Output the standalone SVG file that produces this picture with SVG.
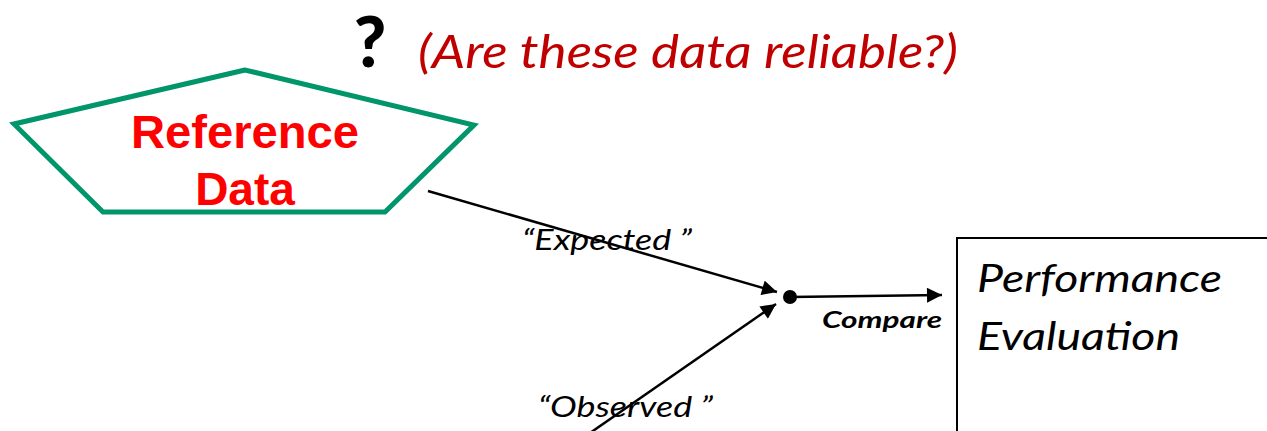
<svg xmlns="http://www.w3.org/2000/svg" width="1267" height="431" viewBox="0 0 1267 431">
<defs>
<style>
.lbl{font-family:Lato,"Open Sans","Liberation Sans",sans-serif;font-style:italic;fill:#000}
.conn{stroke:#000;stroke-width:2.5;fill:none}
</style>
<marker id="arr" viewBox="0 0 10 10" refX="10" refY="5" markerWidth="6.5" markerHeight="6" markerUnits="strokeWidth" orient="auto">
<path d="M0,0 L10,5 L0,10 z" fill="#000"/>
</marker>
</defs>
<rect width="1267" height="431" fill="#fff"/>
<g id="question">
<text x="370" y="67" font-family="Lato,'Open Sans',sans-serif" font-weight="900" font-size="70" text-anchor="middle" fill="#000">?</text>
<text x="418" y="68" font-family="Lato,'Open Sans',sans-serif" font-style="italic" font-size="46" fill="#C00000" textLength="540" lengthAdjust="spacingAndGlyphs">(Are these data reliable?)</text>
</g>
<g id="reference-data">
<polygon points="245,70 14,124 103,212 385,212 474,125" fill="#fff" stroke="#00956A" stroke-width="5" stroke-linejoin="miter"/>
<text x="245" y="148" font-family="'Liberation Sans',Arial,sans-serif" font-weight="bold" font-size="46" fill="#FF0000" text-anchor="middle" textLength="228" lengthAdjust="spacingAndGlyphs">Reference</text>
<text x="245" y="205" font-family="'Liberation Sans',Arial,sans-serif" font-weight="bold" font-size="46" fill="#FF0000" text-anchor="middle">Data</text>
</g>
<g id="connectors">
<line class="conn" x1="428" y1="191" x2="777" y2="292" marker-end="url(#arr)"/>
<line class="conn" x1="590" y1="433" x2="776" y2="304" marker-end="url(#arr)"/>
<line class="conn" x1="790" y1="297" x2="942" y2="295" marker-end="url(#arr)"/>
<circle cx="790" cy="297" r="7" fill="#000"/>
<text class="lbl" x="522" y="250" font-size="28" textLength="170" lengthAdjust="spacingAndGlyphs">“Expected ”</text>
<text class="lbl" x="538" y="417" font-size="28" textLength="175" lengthAdjust="spacingAndGlyphs">“Observed ”</text>
<text class="lbl" x="822" y="328" font-size="23" font-weight="bold" textLength="120" lengthAdjust="spacingAndGlyphs">Compare</text>
</g>
<g id="performance-evaluation">
<rect x="957" y="238" width="320" height="210" fill="#fff" stroke="#000" stroke-width="2"/>
<text class="lbl" x="977" y="292" font-size="38" textLength="245" lengthAdjust="spacingAndGlyphs">Performance</text>
<text class="lbl" x="977" y="350" font-size="38" textLength="203" lengthAdjust="spacingAndGlyphs">Evaluation</text>
</g>
</svg>
